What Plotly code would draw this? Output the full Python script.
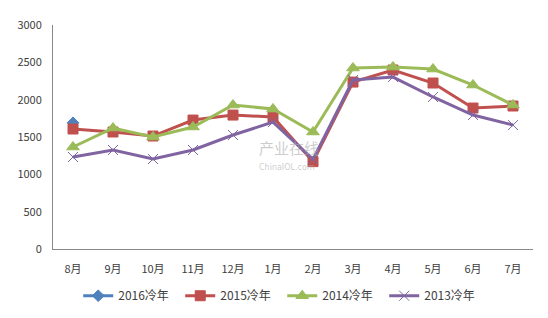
import plotly.graph_objects as go

months = ["8月", "9月", "10月", "11月", "12月", "1月", "2月", "3月", "4月", "5月", "6月", "7月"]
s2016 = [1690, None, None, None, None, None, None, None, None, None, None, None]
s2015 = [1607, 1567, 1513, 1727, 1794, 1767, 1170, 2236, 2397, 2223, 1888, 1915]
s2014 = [1366, 1620, 1500, 1634, 1928, 1875, 1567, 2424, 2437, 2410, 2196, 1928]
s2013 = [1232, 1326, 1205, 1326, 1527, 1700, 1200, 2263, 2303, 2036, 1794, 1660]
names = ["2016冷年", "2015冷年", "2014冷年", "2013冷年"]
yticks = [0, 500, 1000, 1500, 2000, 2500, 3000]

font = "Noto Sans CJK SC"
fig = go.Figure()

fig.add_annotation(text="产业在线", x=0.425, y=0.455, xref="paper", yref="paper",
                   showarrow=False, font=dict(family=font, size=15, color="rgba(170,170,170,0.6)"),
                   xanchor="left", yanchor="middle")
fig.add_annotation(text="ChinaIOL.com", x=0.425, y=0.365, xref="paper", yref="paper",
                   showarrow=False, font=dict(family="DejaVu Sans", size=8, color="rgba(170,170,170,0.6)"),
                   xanchor="left", yanchor="middle")

specs = [
    (names[0], s2016, "#4F81BD", "diamond", 9),
    (names[1], s2015, "#C0504D", "square", 10),
    (names[2], s2014, "#9BBB59", "triangle-up", 11),
    (names[3], s2013, "#8064A2", "x-thin", 10),
]
for name, vals, color, sym, size in specs:
    fig.add_trace(go.Scatter(
        x=months, y=vals, name=name, mode="lines+markers",
        line=dict(color=color, width=3),
        marker=dict(symbol=sym, size=size, color=color,
                    line=dict(color=color, width=1)),
        connectgaps=False,
    ))

fig.update_layout(
    width=548, height=318,
    margin=dict(l=53, r=15, t=25, b=69, autoexpand=False),
    paper_bgcolor="white", plot_bgcolor="white",
    font=dict(family=font, size=11, color="#404040"),
    showlegend=True,
    legend=dict(orientation="h", x=0.515, xanchor="center", xref="container",
                y=0.07, yanchor="middle", yref="container",
                font=dict(family=font, size=12, color="#404040"),
                entrywidth=57, entrywidthmode="pixels", tracegroupgap=0),
    xaxis=dict(type="category", range=[-0.5, 11.5], showgrid=False,
               showline=True, linecolor="#888888", linewidth=1,
               ticks="outside", ticklen=10, tickcolor="rgba(0,0,0,0)",
               tickfont=dict(family=font, size=11, color="#404040")),
    yaxis=dict(range=[0, 3000], tickvals=yticks, showgrid=False,
               showline=True, linecolor="#888888", linewidth=1,
               ticks="outside", ticklen=8, tickcolor="rgba(0,0,0,0)",
               zeroline=False, tickfont=dict(family=font, size=11, color="#404040")),
)
fig.write_html("out.html")
